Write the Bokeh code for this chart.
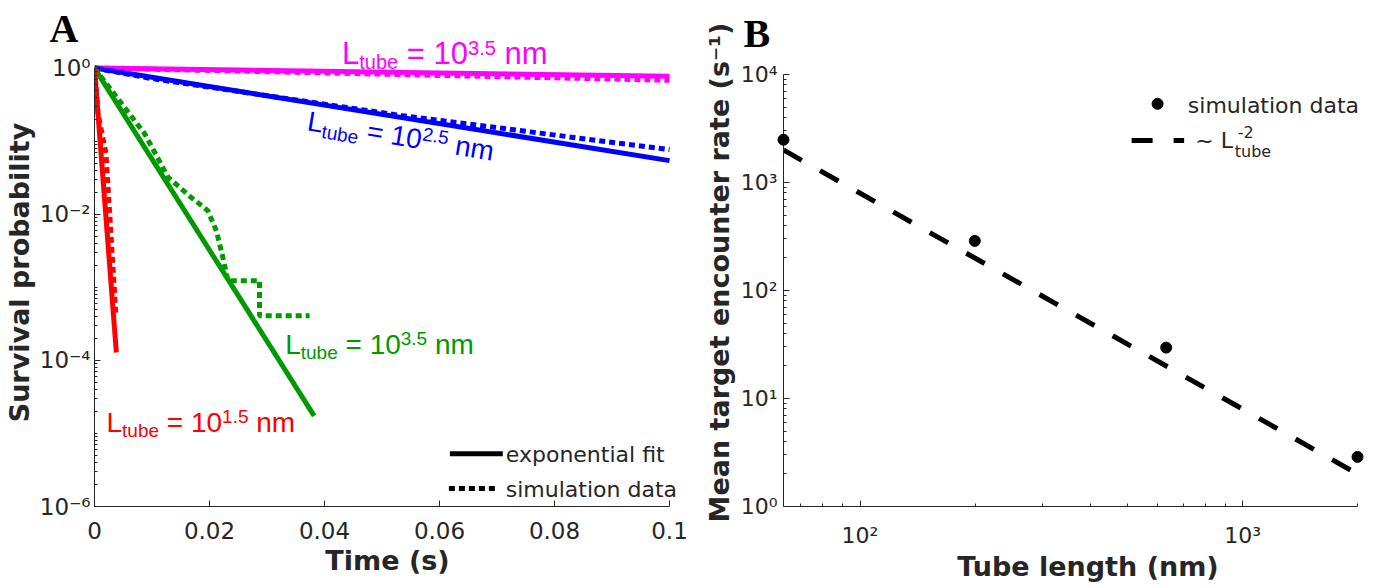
import math
from bokeh.plotting import figure
from bokeh.models import Range1d, FixedTicker, CustomJSTickFormatter, Label
from bokeh.layouts import row
from bokeh.embed import file_html
from bokeh.resources import INLINE

# ---------------- Panel A data: survival probability vs time ----------------
fit_red_t = [0.0, 0.0038]
fit_red_s = [1.0, 1.28e-4]
sim_red_t = [0.0, 0.0006, 0.0020, 0.0037]
sim_red_s = [1.0, 0.24, 0.0676, 4.5e-4]

fit_green_t = [0.0, 0.0382]
fit_green_s = [1.0, 1.74e-5]
sim_green_t = [0.0, 0.0012, 0.0087, 0.0128, 0.0168, 0.0197, 0.0212, 0.0223, 0.0232, 0.0287, 0.0287, 0.0374]
sim_green_s = [1.0, 0.75, 0.127, 0.032, 0.017, 0.0112, 0.0059, 0.0026, 0.00123, 0.00123, 4.07e-4, 4.07e-4]

fit_blue_t = [0.0, 0.1]
fit_blue_s = [1.0, 0.054]
sim_blue_t = [0.0, 0.0099, 0.0533, 0.1]
sim_blue_s = [1.0, 0.718, 0.224, 0.0765]

fit_mag_t = [0.0, 0.1]
fit_mag_s = [1.0, 0.77]
sim_mag_t = [0.0, 0.1]
sim_mag_s = [1.0, 0.68]

x_ticks_A = [0.0, 0.02, 0.04, 0.06, 0.08, 0.1]
y_ticks_A = [1e-6, 1e-4, 1e-2, 1.0]

# ---------------- Panel B data: encounter rate vs tube length ----------------
tube_length = [63.1, 199.5, 631.0, 1995.0]
encounter_rate = [2490.0, 288.0, 29.6, 2.88]
powerlaw_L = [63.1, 1995.0]
powerlaw_rate = [2000.0, 2.0]

x_ticks_B = [100.0, 1000.0]
y_ticks_B = [1.0, 10.0, 100.0, 1000.0, 10000.0]

# ---------------- styling ----------------
INK = "#262626"
MAGENTA, BLUE, GREEN, RED = "#FF00FF", "#0000FF", "#009900", "#FF0000"
SANS = "DejaVu Sans"
ARIAL = "Liberation Sans"
MID_ARIAL, MID_DEJAVU = 0.347, 0.346   # baseline -> middle of the em box, in em

ARIAL_W = {'L': 0.556, 't': 0.278, 'u': 0.556, 'b': 0.556, 'e': 0.556, ' ': 0.278, '=': 0.584,
           '0': 0.556, '1': 0.556, '2': 0.556, '3': 0.556, '5': 0.556, '.': 0.278,
           'n': 0.556, 'm': 0.833, '-': 0.333}

# layout (page pixels; the page has no margin)
TOP, BOTTOM = 38, 82          # shared by both panels (row aligns them)
H = 588
A_W, A_L, A_R = 700, 93, 20   # frame A: x 93..680
B_W, B_L, B_R = 692, 82, 0    # frame B: x 782..1392


# page-pixel -> data helpers (for annotation placement only)
def ax(px):
    return (px - 93.0) / 5760.0


def ay(py):
    return 10 ** (-6.0 + (506.0 - py) / 73.08)


def bx(px):
    return 10 ** (1.8 + (px - 782.0) / 383.33)


def by(py):
    return 10 ** ((506.0 - py) / 108.0)


def text_label(p, x, y, text, size, font=SANS, color=INK, up=0.0, mid=MID_DEJAVU):
    """Label whose alphabetic baseline sits at data (x, y) shifted up by `up` px."""
    p.add_layout(Label(x=x, y=y, y_offset=up + mid * size, text=text, text_font=font,
                       text_font_size=f"{size}px", text_color=color,
                       text_baseline="middle", text_align="left"))


def add_rich(p, x, y, pieces, color, angle=0.0):
    """pieces: (text, size, rise) or a float gap in px; Arial metrics for advance."""
    adv = 0.0
    ca, sa = math.cos(angle), math.sin(angle)
    for piece in pieces:
        if isinstance(piece, (int, float)):
            adv += piece
            continue
        text, size, rise = piece
        up = rise + MID_ARIAL * size
        p.add_layout(Label(x=x, y=y, x_offset=adv * ca - up * sa, y_offset=adv * sa + up * ca,
                           angle=angle, text=text, text_font=ARIAL, text_font_size=f"{size}px",
                           text_color=color, text_baseline="middle", text_align="left"))
        adv += sum(ARIAL_W[c] for c in text) * size


def ltube_pieces(exp, F, s):
    return [("L", F, 0), ("tube", s, -5), 0.278 * F, ("= 10", F, 0), (exp, s, 9), 0.278 * F, ("nm", F, 0)]


POW_JS = """
const s = {"-":"\u207B","0":"\u2070","1":"\u00B9","2":"\u00B2","3":"\u00B3","4":"\u2074",
           "5":"\u2075","6":"\u2076","7":"\u2077","8":"\u2078","9":"\u2079"};
const e = Math.round(Math.log10(tick));
return "10" + String(e).split("").map(c => s[c]).join("");
"""


def style_axis(a, size, standoff, title, title_standoff):
    a.axis_line_color = INK
    a.axis_line_width = 1
    a.major_tick_in = 6
    a.major_tick_out = 0
    a.minor_tick_in = 3
    a.minor_tick_out = 0
    a.major_tick_line_color = INK
    a.minor_tick_line_color = INK
    a.major_label_text_font = SANS
    a.major_label_text_font_size = f"{size}px"
    a.major_label_text_color = INK
    a.major_label_standoff = standoff
    a.axis_label = title
    a.axis_label_text_font = SANS
    a.axis_label_text_font_style = "bold"
    a.axis_label_text_font_size = "27px"
    a.axis_label_text_color = INK
    a.axis_label_standoff = title_standoff


def panel_letter(p, letter, offset, standoff):
    t = p.title
    t.text = letter
    t.align = "left"
    t.vertical_align = "bottom"
    t.offset = offset
    t.text_font = "Liberation Serif"
    t.text_font_style = "bold"
    t.text_font_size = "40px"
    t.text_color = "black"
    try:
        t.standoff = standoff
    except Exception:
        t.standoff = 0


def clean(p):
    p.outline_line_color = None
    p.grid.visible = False
    p.background_fill_color = "white"
    p.border_fill_color = "white"


# ======================= Panel A =======================
pa = figure(width=A_W, height=H, x_range=Range1d(0.0, ax(A_W - A_R)), y_range=Range1d(1e-6, ay(TOP)),
            y_axis_type="log", output_backend="svg", toolbar_location=None,
            min_border_left=A_L, min_border_right=A_R, min_border_top=TOP, min_border_bottom=BOTTOM)
clean(pa)
style_axis(pa.xaxis[0], 23, 15, "Time (s)", 3)
style_axis(pa.yaxis[0], 23, 4, "Survival probability", 2)
pa.xaxis.ticker = FixedTicker(ticks=x_ticks_A)
pa.xaxis.formatter = CustomJSTickFormatter(code="return tick == 0 ? '0' : (Math.round(tick*100)/100).toString();")
pa.xaxis.bounds = (0, 0.1)
minor_A = [k * 10.0 ** e for e in range(-6, 0) for k in range(1, 10) if not (k == 1 and e % 2 == 0)]
pa.yaxis.ticker = FixedTicker(ticks=y_ticks_A, minor_ticks=minor_A)
pa.yaxis.formatter = CustomJSTickFormatter(code=POW_JS)
pa.yaxis.bounds = (1e-6, 1.0)
panel_letter(pa, "A", 48 - 93, -25)

LW = 5
DOT = "6 4"
pa.line(fit_mag_t, fit_mag_s, line_color=MAGENTA, line_width=LW)
pa.line(fit_blue_t, fit_blue_s, line_color=BLUE, line_width=LW)
pa.line(fit_green_t, fit_green_s, line_color=GREEN, line_width=LW)
pa.line(fit_red_t, fit_red_s, line_color=RED, line_width=LW)
pa.line(sim_mag_t, sim_mag_s, line_color=MAGENTA, line_width=LW, line_dash=DOT)
pa.line(sim_blue_t, sim_blue_s, line_color=BLUE, line_width=LW, line_dash=DOT)
pa.line(sim_green_t, sim_green_s, line_color=GREEN, line_width=LW, line_dash=DOT)
pa.line(sim_red_t, sim_red_s, line_color=RED, line_width=LW, line_dash=DOT)

# curve annotations (anchor = left end of the alphabetic baseline)
add_rich(pa, ax(341), ay(63.5), ltube_pieces("3.5", 31, 20), MAGENTA)
add_rich(pa, ax(305), ay(130), ltube_pieces("2.5", 28, 19), BLUE, angle=-0.163)
add_rich(pa, ax(284), ay(353.3), ltube_pieces("3.5", 28, 19), GREEN)
add_rich(pa, ax(105), ay(431.7), ltube_pieces("1.5", 28, 19), RED)

# legend (drawn in black)
pa.line([ax(449), ax(502)], [ay(453.3), ay(453.3)], line_color="black", line_width=LW)
pa.line([ax(448), ax(497)], [ay(488), ay(488)], line_color="black", line_width=LW, line_dash=DOT)
text_label(pa, ax(505), ay(461.7), "exponential fit", 22)
text_label(pa, ax(505), ay(496.7), "simulation data", 22)

# ======================= Panel B =======================
pb = figure(width=B_W, height=H, x_range=Range1d(63.1, bx(700 + B_W - B_R)), y_range=Range1d(1.0, by(TOP)),
            x_axis_type="log", y_axis_type="log", output_backend="svg", toolbar_location=None,
            min_border_left=B_L, min_border_right=B_R, min_border_top=TOP, min_border_bottom=BOTTOM)
clean(pb)
style_axis(pb.xaxis[0], 22, 16, "Tube length (nm)", 0)
style_axis(pb.yaxis[0], 22, 6, "Mean target encounter rate (s\u207B\u00B9)", 3)
minor_Bx = [k * 10.0 ** e for e in (1, 2, 3) for k in range(2, 10)]
pb.xaxis.ticker = FixedTicker(ticks=x_ticks_B, minor_ticks=minor_Bx)
pb.xaxis.formatter = CustomJSTickFormatter(code=POW_JS)
pb.xaxis.bounds = (63.1, 2000.0)
minor_By = [k * 10.0 ** e for e in (0, 1, 2, 3) for k in range(2, 10)]
pb.yaxis.ticker = FixedTicker(ticks=y_ticks_B, minor_ticks=minor_By)
pb.yaxis.formatter = CustomJSTickFormatter(code=POW_JS)
pb.yaxis.bounds = (1.0, 1e4)
panel_letter(pb, "B", 742 - 782, -35)

pb.line(powerlaw_L, powerlaw_rate, line_color="black", line_width=5, line_dash="21 21")
pts = pb.scatter(tube_length, encounter_rate, size=11, color="black")
pts.level = "overlay"

# legend
pb.scatter([bx(1156.7)], [by(103.3)], size=11, color="black")
pb.line([bx(1130.7), bx(1183.3)], [by(140), by(140)], line_color="black", line_width=5, line_dash="21 21")
text_label(pb, bx(1187), by(112.7), "simulation data", 22)
text_label(pb, bx(1194.5), by(147.3), "~ L", 22)
text_label(pb, bx(1234), by(156.7), "tube", 16)
text_label(pb, bx(1237), by(137.5), "-2", 16)

layout = row(pa, pb)
open("out.html", "w").write(file_html(layout, INLINE))
